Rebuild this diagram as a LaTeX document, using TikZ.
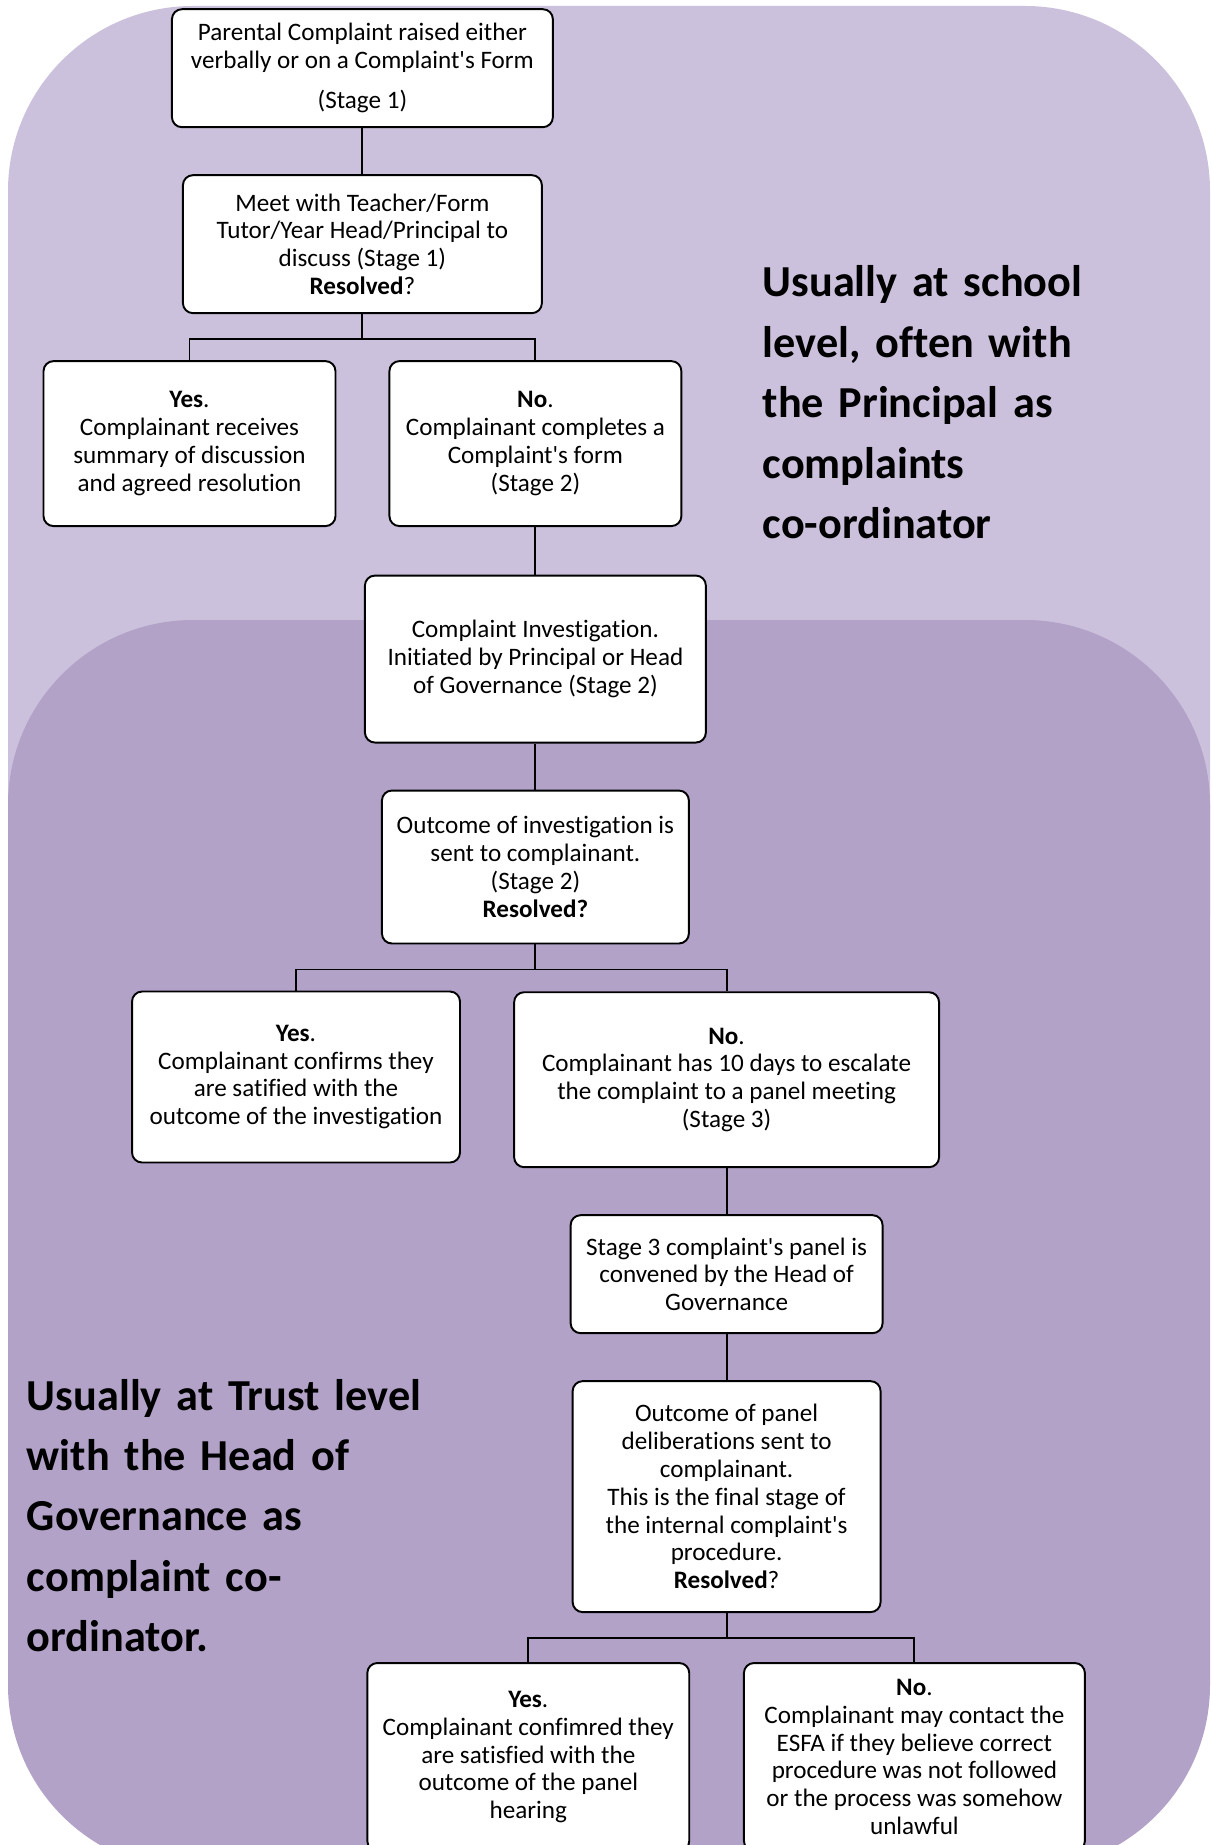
\documentclass[tikz,border=0pt]{standalone}
\usepackage{fontspec}
\setmainfont{Carlito}[Ligatures=NoCommon]
\usepackage{tikz}
\usetikzlibrary{arrows}
\definecolor{schoolbg}{RGB}{204,193,220}
\definecolor{trustbg}{RGB}{178,162,200}
\newcommand{\ap}{\textquotesingle}

\begin{document}
\begin{tikzpicture}[-,x=0.02cm,y=-0.02cm,auto,node distance=4cm,
                    line width=1.1pt]
  \tikzstyle{flow}=[rectangle,rounded corners=0.2cm,draw=black,fill=white,text=black,
                    align=center,inner sep=2pt,font=\fontsize{14.3}{15.8}\selectfont]
  \tikzstyle{tiernote}=[anchor=base west,text width=12cm,align=left,inner sep=0pt,
                    font=\fontsize{25.2}{34.4}\selectfont\bfseries]

  \useasboundingbox (0,0) rectangle (1212,1845);
  \clip (0,0) rectangle (1212,1845);

  % the two levels
  \fill[schoolbg,rounded corners=3.7cm] (8,6) rectangle (1210,1100);
  \fill[trustbg,rounded corners=3.7cm] (8,620) rectangle (1210,1870);

  \node[flow,minimum width=7.62cm,minimum height=2.36cm] (A) at (362.4,68.2)
        {Parental Complaint raised either\\verbally or on a Complaint\ap s Form\\[7pt](Stage 1)};
  \node[flow,minimum width=7.18cm,minimum height=2.76cm] (B) [node distance=3.52cm,below of=A]
        {Meet with Teacher/Form\\Tutor/Year Head/Principal to\\discuss (Stage 1)\\\textbf{Resolved}?};
  \node[flow,minimum width=5.84cm,minimum height=3.3cm] (C) at (189.5,443.6)
        {\textbf{Yes}.\\Complainant receives\\summary of discussion\\and agreed resolution};
  \node[flow,minimum width=5.84cm,minimum height=3.3cm] (D) at (535.4,443.6)
        {\textbf{No}.\\Complainant completes a\\Complaint\ap s form\\(Stage 2)};
  \node[flow,minimum width=6.82cm,minimum height=3.34cm] (E) [node distance=4.31cm,below of=D]
        {Complaint Investigation.\\Initiated by Principal or Head\\of Governance (Stage 2)};
  \node[flow,minimum width=6.14cm,minimum height=3.06cm] (F) [node distance=4.16cm,below of=E]
        {Outcome of investigation is\\sent to complainant.\\(Stage 2)\\\textbf{Resolved?}};
  \node[flow,minimum width=6.56cm,minimum height=3.42cm] (G) at (296,1077)
        {\textbf{Yes}.\\Complainant confirms they\\are satified with the\\outcome of the investigation};
  \node[flow,minimum width=8.5cm,minimum height=3.5cm] (H) at (726.6,1079.7)
        {\textbf{No}.\\Complainant has 10 days to escalate\\the complaint to a panel meeting\\(Stage 3)};
  \node[flow,minimum width=6.24cm,minimum height=2.36cm] (I) [node distance=3.89cm,below of=H]
        {Stage 3 complaint\ap s panel is\\convened by the Head of\\Governance};
  \node[flow,minimum width=6.16cm,minimum height=4.62cm] (J) [node distance=4.45cm,below of=I]
        {Outcome of panel\\deliberations sent to\\complainant.\\This is the final stage of\\the internal complaint\ap s\\procedure.\\\textbf{Resolved}?};
  \node[flow,minimum width=6.44cm,minimum height=3.76cm] (K) at (528.3,1757)
        {\textbf{Yes}.\\Complainant confimred they\\are satisfied with the\\outcome of the panel\\hearing};
  \node[flow,minimum width=6.82cm,minimum height=3.76cm] (L) at (914.4,1757)
        {\textbf{No}.\\Complainant may contact the\\ESFA if they believe correct\\procedure was not followed\\or the process was somehow\\unlawful};

  \node[tiernote] (school) at (761.7,296.7)
        {Usually at school\\level, often with\\the Principal as\\complaints\\co-ordinator};
  \node[tiernote] (trust) at (26,1410)
        {Usually at Trust level\\with the Head of\\Governance as\\complaint co-\\ordinator.};

  \path (A) edge (B)
        (D) edge (E)
        (E) edge (F)
        (H) edge (I)
        (I) edge (J);
  % yes/no forks
  \draw (B.south) -- ++(0,25) -| (C.north);
  \draw (B.south) -- ++(0,25) -| (D.north);
  \draw (F.south) -- ++(0,25) -| (G.north);
  \draw (F.south) -- ++(0,25) -| (H.north);
  \draw (J.south) -- ++(0,25) -| (K.north);
  \draw (J.south) -- ++(0,25) -| (L.north);
\end{tikzpicture}
\end{document}
